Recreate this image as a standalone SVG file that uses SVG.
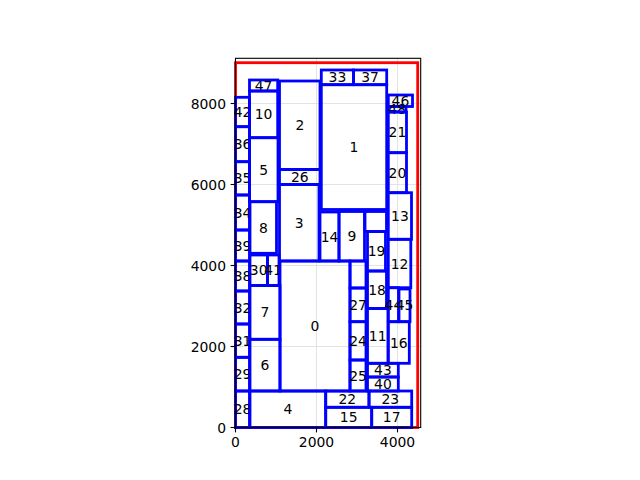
<svg xmlns="http://www.w3.org/2000/svg" width="640" height="480" viewBox="0 0 640 480">
<style>
.grid{stroke:#dcdcdc;stroke-width:0.8;fill:none}
.b{fill:none;stroke:#0000ff;stroke-width:2.8}
.r{fill:none;stroke:#ff0000;stroke-width:2.8}
.spine{fill:none;stroke:#000;stroke-width:1.1}
.tick{stroke:#000;stroke-width:1.1}
text{font-family:"DejaVu Sans",sans-serif;font-size:13.9px;fill:#000}
.c{text-anchor:middle}
.yl{text-anchor:end}
</style>
<rect width="640" height="480" fill="#fff"/>
<g id="grid">
<line class="grid" x1="316.5" y1="58.3" x2="316.5" y2="427.5"/>
<line class="grid" x1="397.5" y1="58.3" x2="397.5" y2="427.5"/>
<line class="grid" x1="235.5" y1="346.5" x2="420.7" y2="346.5"/>
<line class="grid" x1="235.5" y1="265.5" x2="420.7" y2="265.5"/>
<line class="grid" x1="235.5" y1="184.5" x2="420.7" y2="184.5"/>
<line class="grid" x1="235.5" y1="103.5" x2="420.7" y2="103.5"/>
</g>
<g id="bound"><rect class="r" x="235.5" y="62.7" width="182.2" height="364.8"/></g>
<g id="nodes">
<g id="n42"><rect class="b" x="235.5" y="97.3" width="14" height="29.4"/><text class="c" x="242.5" y="117">42</text></g>
<g id="n36"><rect class="b" x="235.5" y="126.7" width="14" height="35"/><text class="c" x="242.5" y="149.2">36</text></g>
<g id="n35"><rect class="b" x="235.5" y="161.7" width="14" height="33.3"/><text class="c" x="242.5" y="183.3">35</text></g>
<g id="n34"><rect class="b" x="235.5" y="195" width="14" height="35"/><text class="c" x="242.5" y="217.5">34</text></g>
<g id="n39"><rect class="b" x="235.5" y="230" width="14" height="31"/><text class="c" x="242.5" y="250.5">39</text></g>
<g id="n38"><rect class="b" x="235.5" y="261" width="14" height="30"/><text class="c" x="242.5" y="281">38</text></g>
<g id="n32"><rect class="b" x="235.5" y="291" width="14" height="33"/><text class="c" x="242.5" y="312.5">32</text></g>
<g id="n31"><rect class="b" x="235.5" y="324" width="14" height="33.3"/><text class="c" x="242.5" y="345.6">31</text></g>
<g id="n29"><rect class="b" x="235.5" y="357.3" width="14" height="33.7"/><text class="c" x="242.5" y="379.2">29</text></g>
<g id="n28"><rect class="b" x="235.5" y="391" width="14" height="36.5"/><text class="c" x="242.5" y="414.3">28</text></g>
<g id="n47"><rect class="b" x="249.5" y="80" width="28.2" height="11"/><text class="c" x="263.6" y="90.5">47</text></g>
<g id="n10"><rect class="b" x="249.5" y="91" width="28.2" height="46.7"/><text class="c" x="263.6" y="119.4">10</text></g>
<g id="n5"><rect class="b" x="249.5" y="137.7" width="28.5" height="64"/><text class="c" x="263.7" y="174.7">5</text></g>
<g id="n8"><rect class="b" x="250" y="201.7" width="26.5" height="51.6"/><text class="c" x="263.3" y="232.5">8</text></g>
<g id="n30"><rect class="b" x="250" y="255" width="17.5" height="30.5"/><text class="c" x="258.7" y="275.2">30</text></g>
<g id="n41"><rect class="b" x="267.5" y="255" width="11.5" height="30.5"/><text class="c" x="273.2" y="275.2">41</text></g>
<g id="n7"><rect class="b" x="250" y="285.5" width="30" height="53.8"/><text class="c" x="265" y="317.4">7</text></g>
<g id="n6"><rect class="b" x="250" y="339.3" width="30" height="51.7"/><text class="c" x="265" y="370.2">6</text></g>
<g id="n4"><rect class="b" x="250" y="391" width="75.7" height="36.5"/><text class="c" x="287.8" y="414.3">4</text></g>
<g id="n2"><rect class="b" x="279.5" y="81" width="40.5" height="88.5"/><text class="c" x="299.8" y="130.3">2</text></g>
<g id="n26"><rect class="b" x="279.5" y="169.5" width="40.5" height="15"/><text class="c" x="299.8" y="182">26</text></g>
<g id="n3"><rect class="b" x="279.5" y="184.5" width="39.5" height="76.5"/><text class="c" x="299.2" y="227.8">3</text></g>
<g id="n0"><rect class="b" x="280" y="261" width="70" height="130"/><text class="c" x="315" y="331">0</text></g>
<g id="n14"><rect class="b" x="320" y="212" width="19" height="49"/><text class="c" x="329.5" y="241.5">14</text></g>
<g id="n9"><rect class="b" x="339" y="211.5" width="25.5" height="49.5"/><text class="c" x="351.8" y="241.3">9</text></g>
<g id="n33"><rect class="b" x="321.3" y="70" width="32.2" height="14.7"/><text class="c" x="337.4" y="82.4">33</text></g>
<g id="n37"><rect class="b" x="353.5" y="70" width="33.2" height="14.7"/><text class="c" x="370.1" y="82.4">37</text></g>
<g id="n1"><rect class="b" x="321.3" y="84.7" width="65.4" height="124.8"/><text class="c" x="354" y="152.1">1</text></g>
<g id="na"><rect class="b" x="365" y="211.5" width="21.5" height="20"/></g>
<g id="n19"><rect class="b" x="367.5" y="231.5" width="18" height="39.5"/><text class="c" x="376.5" y="256.3">19</text></g>
<g id="n18"><rect class="b" x="367.5" y="271" width="19" height="37.5"/><text class="c" x="377" y="294.8">18</text></g>
<g id="n11"><rect class="b" x="367.5" y="308.5" width="20.5" height="54.8"/><text class="c" x="377.7" y="340.9">11</text></g>
<g id="nb"><rect class="b" x="350" y="261" width="16" height="27"/></g>
<g id="n27"><rect class="b" x="350" y="288" width="16" height="33.7"/><text class="c" x="358" y="309.9">27</text></g>
<g id="n24"><rect class="b" x="350" y="321.7" width="16" height="38.3"/><text class="c" x="358" y="345.9">24</text></g>
<g id="n25"><rect class="b" x="350" y="360" width="16" height="31"/><text class="c" x="358" y="380.5">25</text></g>
<g id="n43"><rect class="b" x="367.5" y="363.3" width="30.8" height="13.7"/><text class="c" x="382.9" y="375.2">43</text></g>
<g id="n40"><rect class="b" x="367.5" y="377" width="30.8" height="14"/><text class="c" x="382.9" y="389">40</text></g>
<g id="n22"><rect class="b" x="325.7" y="391" width="43.3" height="16.3"/><text class="c" x="347.3" y="404.2">22</text></g>
<g id="n23"><rect class="b" x="369" y="391" width="42.7" height="16.3"/><text class="c" x="390.3" y="404.2">23</text></g>
<g id="n15"><rect class="b" x="325.7" y="407.3" width="46" height="20.2"/><text class="c" x="348.7" y="422.4">15</text></g>
<g id="n17"><rect class="b" x="371.7" y="407.3" width="40" height="20.2"/><text class="c" x="391.7" y="422.4">17</text></g>
<g id="n46"><rect class="b" x="388.3" y="95" width="24.2" height="11.5"/><text class="c" x="400.4" y="105.7">46</text></g>
<g id="n48"><rect class="b" x="388.3" y="106.5" width="17.7" height="5.5"/><text class="c" x="397.2" y="114.3">48</text></g>
<g id="n21"><rect class="b" x="388.3" y="112" width="18.2" height="40.7"/><text class="c" x="397.4" y="137.4">21</text></g>
<g id="n20"><rect class="b" x="388.3" y="152.7" width="18.2" height="40"/><text class="c" x="397.4" y="177.7">20</text></g>
<g id="n13"><rect class="b" x="388.3" y="192.7" width="23.2" height="46.6"/><text class="c" x="399.9" y="221">13</text></g>
<g id="n12"><rect class="b" x="388.3" y="239.3" width="22.5" height="48.4"/><text class="c" x="399.5" y="268.5">12</text></g>
<g id="n44"><rect class="b" x="388.3" y="287.7" width="10.2" height="34"/><text class="c" x="393.4" y="309.7">44</text></g>
<g id="n45"><rect class="b" x="399" y="289" width="11" height="32.7"/><text class="c" x="404.5" y="310.3">45</text></g>
<g id="n16"><rect class="b" x="388.3" y="321.7" width="21" height="41.6"/><text class="c" x="398.8" y="347.5">16</text></g>
</g>
<g id="connectors"></g>
<g id="axes">
<rect class="spine" x="235.5" y="58.3" width="185.2" height="369.2"/>
<line class="tick" x1="235.5" y1="427.5" x2="235.5" y2="432.4"/>
<line class="tick" x1="316.5" y1="427.5" x2="316.5" y2="432.4"/>
<line class="tick" x1="397.5" y1="427.5" x2="397.5" y2="432.4"/>
<line class="tick" x1="230.6" y1="427.5" x2="235.5" y2="427.5"/>
<line class="tick" x1="230.6" y1="346.5" x2="235.5" y2="346.5"/>
<line class="tick" x1="230.6" y1="265.5" x2="235.5" y2="265.5"/>
<line class="tick" x1="230.6" y1="184.5" x2="235.5" y2="184.5"/>
<line class="tick" x1="230.6" y1="103.5" x2="235.5" y2="103.5"/>
<text class="c" x="235.5" y="447.3">0</text>
<text class="c" x="316.5" y="447.3">2000</text>
<text class="c" x="397.5" y="447.3">4000</text>
<text class="yl" x="226" y="432.5">0</text>
<text class="yl" x="226" y="351.5">2000</text>
<text class="yl" x="226" y="270.5">4000</text>
<text class="yl" x="226" y="189.5">6000</text>
<text class="yl" x="226" y="108.5">8000</text>
</g>
</svg>
